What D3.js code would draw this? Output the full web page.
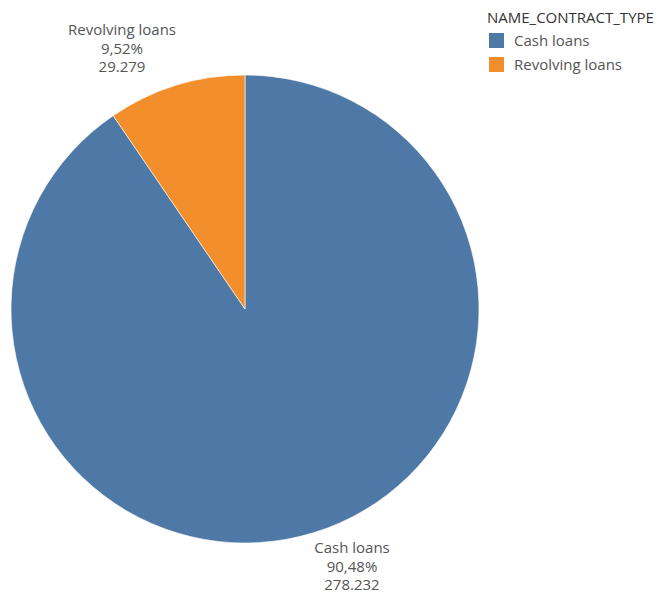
<!DOCTYPE html>
<html>
<head>
<meta charset="utf-8">
<script src="https://cdn.jsdelivr.net/npm/d3@7"></script>
<style>
  html, body { margin: 0; padding: 0; background: #fff; }
  svg { display: block; }
  text { font-family: "Open Sans", "Noto Sans", sans-serif; }
</style>
</head>
<body>
<svg id="chart" width="663" height="596"></svg>
<script>
// Loan counts by contract type
const categories = ["Cash loans", "Revolving loans"];
const counts = [278232, 29279];
const colors = ["#4e79a7", "#f28e2b"];
const legendTitle = "NAME_CONTRACT_TYPE";

const svg = d3.select("#chart");
const cx = 245, cy = 309, radius = 234;

const total = d3.sum(counts);
const data = categories.map((c, i) => ({ name: c, value: counts[i] }));

const pie = d3.pie().value(d => d.value).sort(null);
const arcs = pie(data);
const arc = d3.arc().innerRadius(0).outerRadius(radius);
const color = d3.scaleOrdinal().domain(categories).range(colors);

const g = svg.append("g").attr("transform", `translate(${cx},${cy})`);
g.selectAll("path")
  .data(arcs)
  .join("path")
  .attr("d", arc)
  .attr("fill", d => color(d.data.name))
  .attr("stroke", "#ffffff")
  .attr("stroke-width", 0.6);

// Slice labels: name, share and count
const pctFmt = v => (v * 100).toFixed(2).replace(".", ",") + "%";
const numFmt = v => d3.format(",")(v).replace(/,/g, ".");
const labelPos = {
  "Cash loans": [352, 548],
  "Revolving loans": [122, 30]
};
arcs.forEach(a => {
  const [lx, ly] = labelPos[a.data.name];
  const t = svg.append("text")
    .attr("text-anchor", "middle")
    .attr("fill", "#555")
    .attr("font-size", 15);
  [a.data.name, pctFmt(a.data.value / total), numFmt(a.data.value)].forEach((s, i) => {
    t.append("tspan").attr("x", lx).attr("y", ly + 5 + i * 18.5).text(s);
  });
});

// Legend
const lg = svg.append("g").attr("transform", "translate(487,0)");
lg.append("text")
  .attr("x", 0).attr("y", 23)
  .attr("fill", "#333")
  .attr("font-size", 15)
  .text(legendTitle);
categories.forEach((c, i) => {
  const y = 33 + i * 24;
  lg.append("rect")
    .attr("x", 2).attr("y", y)
    .attr("width", 15).attr("height", 15)
    .attr("fill", color(c));
  lg.append("text")
    .attr("x", 27).attr("y", y + 13)
    .attr("fill", "#555")
    .attr("font-size", 15)
    .text(c);
});
</script>
</body>
</html>
